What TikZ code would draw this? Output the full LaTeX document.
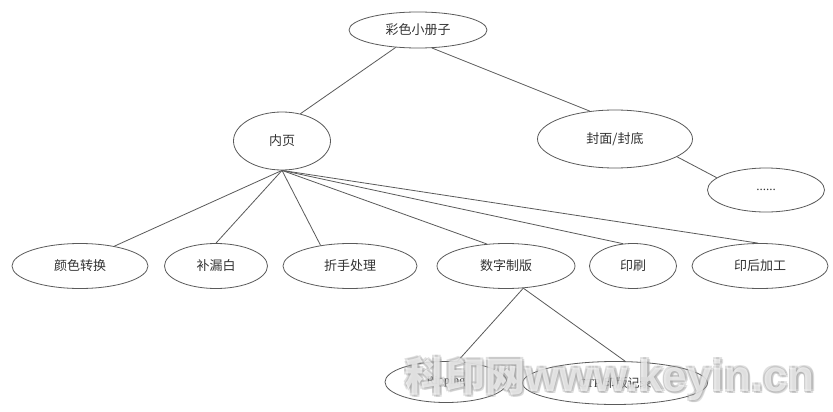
\documentclass[tikz,border=0pt]{standalone}
\usepackage{fontspec}
\setmainfont{Liberation Serif}
\newfontfamily\cjk{Noto Sans CJK SC}
\newfontfamily\wmsans{Liberation Sans}
\usetikzlibrary{shapes.geometric}
\definecolor{linec}{HTML}{5A5A5A}
\definecolor{txtc}{HTML}{333333}
\definecolor{shadowc}{HTML}{9A9A9A}
\tikzset{
  ell/.style={ellipse, draw=linec, line width=0.8pt, inner sep=0pt, text=txtc,
    font=\cjk\fontsize{13}{15}\selectfont},
  sub/.style={ellipse, draw=linec, line width=0.8pt, inner sep=0pt, text=txtc,
    font=\fontsize{12}{14}\selectfont},
  conn/.style={draw=linec, line width=0.8pt},
  wm/.style={anchor=base west, inner sep=0pt, font=\bfseries},
}
\newcommand{\wmtext}{{\cjk\fontsize{40}{44}\selectfont 科印网}{\wmsans\fontsize{44}{48}\selectfont www.keyin.cn}}
\begin{document}
\begin{tikzpicture}[x=1pt,y=-1pt]
\useasboundingbox[fill=white] (0,0) rectangle (833,412);

\node[ell, minimum width=138pt, minimum height=36pt] (top) at (418,30) {彩色小册子};
\node[ell, minimum width=97pt, minimum height=58pt] (np) at (282,141) {内页};
\node[ell, minimum width=155pt, minimum height=58pt] (fm) at (615,139) {封面/封底};
\node[ell, minimum width=117pt, minimum height=44pt, font=\fontsize{13}{15}\selectfont] (dots) at (766,190) {......};

\node[ell, minimum width=136pt, minimum height=45pt] (c1) at (80,266) {颜色转换};
\node[ell, minimum width=103pt, minimum height=45pt] (c2) at (216,266) {补漏白};
\node[ell, minimum width=134pt, minimum height=45pt] (c3) at (350,266) {折手处理};
\node[ell, minimum width=138pt, minimum height=45pt] (c4) at (506,266) {数字制版};
\node[ell, minimum width=87pt, minimum height=45pt] (c5) at (633,266) {印刷};
\node[ell, minimum width=136pt, minimum height=45pt] (c6) at (760,266) {印后加工};

\node[sub, minimum width=122pt, minimum height=41pt] (r1) at (446,382) {Ripping};
\node[sub, minimum width=185pt, minimum height=43pt] (r2) at (615,383) {CTP {\cjk 印版记录}};

\draw[conn] (top.218) -- (np.56);
\draw[conn] (top.308) -- (fm.132);
\draw[conn] (fm.344) -- (dots.166);

\draw[conn] (np.south) -- (c1.30);
\draw[conn] (np.south) -- (c2.90);
\draw[conn] (np.south) -- (c3.145);
\draw[conn] (np.south) -- (c4.131);
\draw[conn] (np.south) -- (c5.114);
\draw[conn] (np.south) -- (c6.95);

\draw[conn] (c4.308) -- (r1.61);
\draw[conn] (c4.308) -- (r2.65);

% watermark
\foreach \dx/\dy [count=\i] in {2/2, -1.5/1.5, 1.5/-1.5, -1.5/-1.5, 2.5/0, 0/2.5} {
  \node[wm, text=shadowc, opacity=0.3] (wms\i) at (405+\dx,391+\dy) {\wmtext};
}
\node[wm, text=white, opacity=0.65] (wm) at (405,391) {\wmtext};
\end{tikzpicture}
\end{document}
